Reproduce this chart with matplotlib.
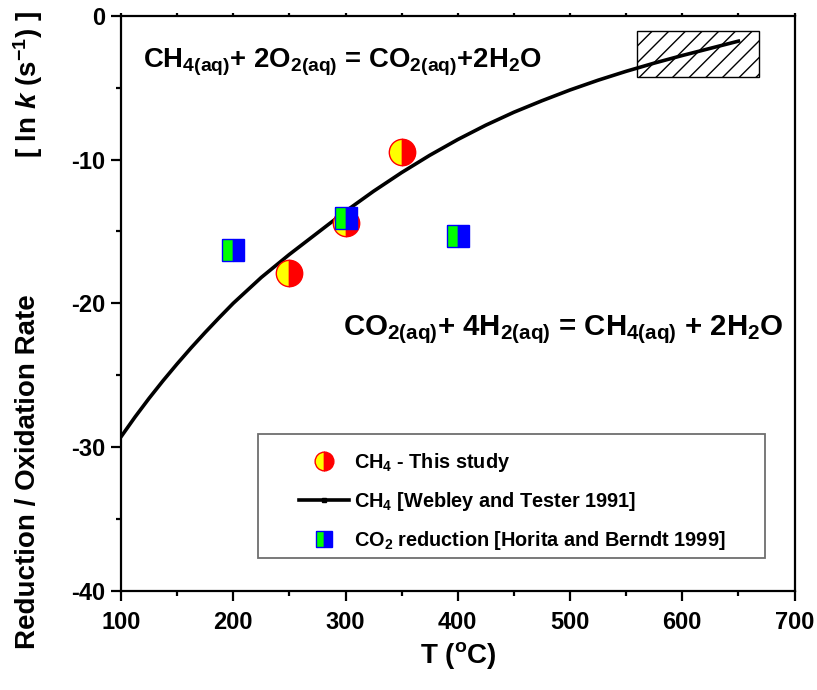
import matplotlib
matplotlib.use('Agg')
import matplotlib.pyplot as plt
from matplotlib.lines import Line2D
from matplotlib.patches import Rectangle
from matplotlib.ticker import MultipleLocator

plt.rcParams['font.family'] = 'Liberation Sans'
plt.rcParams['font.weight'] = 'bold'
plt.rcParams['mathtext.fontset'] = 'custom'
plt.rcParams['mathtext.rm'] = 'Liberation Sans:bold'
plt.rcParams['mathtext.it'] = 'Liberation Sans:bold:italic'
plt.rcParams['mathtext.bf'] = 'Liberation Sans:bold'
plt.rcParams['axes.unicode_minus'] = False
plt.rcParams['hatch.linewidth'] = 1.0

# CH4 oxidation rate, Webley and Tester 1991 (T in degC, ln k)
curve_T = [100, 112.5, 125, 137.5, 150, 162.5, 175, 187.5, 200, 225, 250, 275,
           300, 325, 350, 375, 400, 425, 450, 475, 500, 525, 550, 575, 600,
           625, 650]
curve_lnk = [-29.3, -27.92, -26.62, -25.39, -24.22, -23.1, -22.03, -21.0,
             -20.0, -18.2, -16.6, -15.1, -13.6, -12.2, -10.9, -9.7, -8.6,
             -7.6, -6.7, -5.9, -5.15, -4.47, -3.85, -3.28, -2.75, -2.25, -1.75]

# CH4 - this study
ch4_T = [250, 300, 350]
ch4_lnk = [-17.9, -14.4, -9.45]

# CO2 reduction, Horita and Berndt 1999
co2_T = [200, 300, 400]
co2_lnk = [-16.3, -14.05, -15.35]

# hatched range at high temperature
box_T = [560, 668]
box_lnk = [-4.25, -1.05]

legend_labels = [r"CH$_\mathrm{4}$ - This study",
                 r"CH$_\mathrm{4}$ [Webley and Tester 1991]",
                 r"CO$_\mathrm{2}$ reduction [Horita and Berndt 1999]"]

fig = plt.figure(figsize=(8.17, 6.90), dpi=100)
ax = fig.add_axes([0.1481, 0.1442, 0.8244, 0.8326])

ax.add_patch(Rectangle((box_T[0], box_lnk[0]), box_T[1] - box_T[0],
                       box_lnk[1] - box_lnk[0], facecolor='white',
                       edgecolor='black', hatch='//', lw=1.0, zorder=1))

ax.plot(curve_T, curve_lnk, color='black', lw=2.6, zorder=2,
        solid_joinstyle='round')
ax.plot(ch4_T, ch4_lnk, ls='none', marker='o', ms=19, fillstyle='left',
        markerfacecolor='yellow', markerfacecoloralt='red',
        markeredgecolor='red', mew=1.0, zorder=3)
ax.plot(co2_T, co2_lnk, ls='none', marker='s', ms=16.5, fillstyle='left',
        markerfacecolor='#00ff00', markerfacecoloralt='blue',
        markeredgecolor='blue', mew=1.0, zorder=4)

ax.set_xlim(100, 700)
ax.set_ylim(-40, 0)
ax.xaxis.set_major_locator(MultipleLocator(100))
ax.xaxis.set_minor_locator(MultipleLocator(50))
ax.yaxis.set_major_locator(MultipleLocator(10))
ax.yaxis.set_minor_locator(MultipleLocator(5))

for s in ax.spines.values():
    s.set_linewidth(1.6)
ax.tick_params(which='major', direction='out', length=7, width=1.6,
               labelsize=17, top=True, right=False)
ax.tick_params(which='minor', direction='out', length=3.5, width=1.6,
               top=True, right=False)
ax.tick_params(axis='x', which='major', pad=8)
ax.tick_params(axis='y', which='major', pad=4)
ax.xaxis.set_tick_params(which='both', labeltop=False)
for t in ax.xaxis.get_major_ticks() + ax.xaxis.get_minor_ticks():
    t.tick2line.set_markersize(2)

# reaction equations
ax.text(120, -3.6,
        r"CH$_\mathrm{4(aq)}$+ 2O$_\mathrm{2(aq)}$ = CO$_\mathrm{2(aq)}$+2H$_\mathrm{2}$O",
        fontsize=19.8, va='baseline', ha='left')
ax.text(298, -22.2,
        r"CO$_\mathrm{2(aq)}$+ 4H$_\mathrm{2(aq)}$ = CH$_\mathrm{4(aq)}$ + 2H$_\mathrm{2}$O",
        fontsize=21.2, va='baseline', ha='left')

# legend with a plain box
ax.add_patch(Rectangle((0.2034, 0.0566), 0.7528, 0.2158, transform=ax.transAxes,
                       facecolor='white', edgecolor='#6e6e6e', lw=1.3, zorder=5))
handles = [
    Line2D([], [], ls='none', marker='o', ms=13.5, fillstyle='left',
           markerfacecolor='yellow', markerfacecoloralt='red', markeredgecolor='red'),
    Line2D([], [], color='black', lw=2.6, marker='s', ms=3),
    Line2D([], [], ls='none', marker='s', ms=12, fillstyle='left',
           markerfacecolor='#00ff00', markerfacecoloralt='blue', markeredgecolor='blue'),
]
leg = ax.legend(handles, legend_labels, loc='upper left',
                bbox_to_anchor=(0.2643, 0.243), bbox_transform=ax.transAxes,
                frameon=False, fontsize=14.3, handlelength=2.5, handletextpad=0.25,
                labelspacing=0.8, borderpad=0, borderaxespad=0, numpoints=1)
leg.set_zorder(6)

fig.text(0.5606, 0.05, r"T ($^\mathrm{o}$C)", fontsize=20, ha='center', va='center')
fig.text(0.0343, 0.3167, "Reduction / Oxidation Rate", fontsize=20,
         rotation=90, ha='center', va='center')
fig.text(0.0343, 0.877, r"[ ln $\mathit{k}$ (s$^\mathrm{-1}$) ]", fontsize=20,
         rotation=90, ha='center', va='center')

fig.savefig('out.png', dpi=100)
